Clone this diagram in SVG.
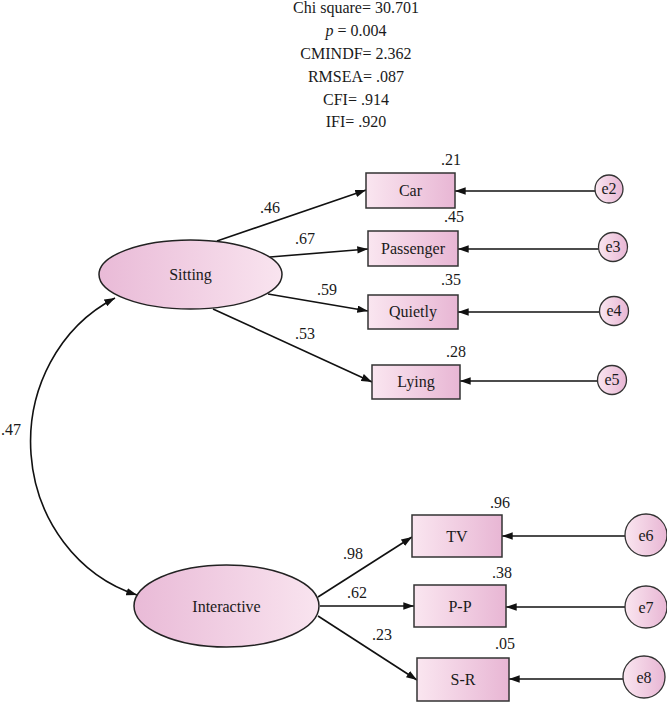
<svg xmlns="http://www.w3.org/2000/svg" width="667" height="716" viewBox="0 0 667 716" font-family="'Liberation Serif', 'Times New Roman', Tinos, 'DejaVu Serif', serif">
<style>
text{font-family:'Liberation Serif','Times New Roman',Tinos,'DejaVu Serif',serif;fill:#1a1a1a;}
.st{font-size:16px;text-anchor:middle;}
.lb{font-size:16px;text-anchor:middle;}
.cf{font-size:16px;text-anchor:middle;}
.box{fill:url(#gR);stroke:#333;stroke-width:1.5;}
.lat{fill:url(#gL);stroke:#222;stroke-width:1.5;}
.err{fill:url(#gR);stroke:#333;stroke-width:1.3;}
.ed{fill:none;stroke:#111;stroke-width:1.6;marker-end:url(#ah);}
</style>
<defs>
<linearGradient id="gR" x1="0" y1="0" x2="1" y2="0">
<stop offset="0" stop-color="#fae6f0"/><stop offset="1" stop-color="#e8b6d4"/>
</linearGradient>
<linearGradient id="gL" x1="0" y1="0" x2="1" y2="0">
<stop offset="0" stop-color="#e9bad7"/><stop offset="1" stop-color="#f9e4ef"/>
</linearGradient>
<marker id="ah" viewBox="0 0 10 7" refX="10" refY="3.5" markerWidth="11" markerHeight="7.5" markerUnits="userSpaceOnUse" orient="auto-start-reverse">
<path d="M0,0 L10,3.5 L0,7 z" fill="#111"/>
</marker>
</defs>
<g id="fit">
<text class="st" x="356" y="13">Chi square= 30.701</text>
<text class="st" x="356" y="36"><tspan font-style="italic">p</tspan> = 0.004</text>
<text class="st" x="356" y="59">CMINDF= 2.362</text>
<text class="st" x="356" y="82">RMSEA= .087</text>
<text class="st" x="356" y="104.5">CFI= .914</text>
<text class="st" x="356" y="127">IFI= .920</text>
</g>
<g id="connectors">
<path class="ed" d="M217,241 L366,190"/>
<path class="ed" d="M270,257 L368,249"/>
<path class="ed" d="M268,294 L368,311"/>
<path class="ed" d="M213,309 L372,382"/>
<path class="ed" d="M318,597 L412,537"/>
<path class="ed" d="M320,606 L414,606"/>
<path class="ed" d="M318,616 L417,680"/>
<path class="ed" d="M596,191 L455,191"/>
<path class="ed" d="M599,249 L458,249"/>
<path class="ed" d="M600,312 L458,312"/>
<path class="ed" d="M598,381 L460,381"/>
<path class="ed" d="M625,536 L502,536"/>
<path class="ed" d="M625,607 L506,607"/>
<path class="ed" d="M623,679 L509,679"/>
<path d="M115,298 A150,160 0 0,0 137,595" fill="none" stroke="#111" stroke-width="1.6" marker-start="url(#ah)" marker-end="url(#ah)"/>
<text class="cf" x="270" y="213">.46</text>
<text class="cf" x="305" y="244">.67</text>
<text class="cf" x="327" y="295">.59</text>
<text class="cf" x="305" y="339">.53</text>
<text class="cf" x="353" y="559">.98</text>
<text class="cf" x="357" y="598">.62</text>
<text class="cf" x="382" y="640">.23</text>
<text class="cf" x="11" y="435">.47</text>
</g>
<g id="Sitting"><ellipse class="lat" cx="190.5" cy="274.5" rx="91.5" ry="34.5"/><text class="lb" x="190.5" y="280">Sitting</text></g>
<g id="Interactive"><ellipse class="lat" cx="226.5" cy="606" rx="92.5" ry="41"/><text class="lb" x="226.5" y="611.5">Interactive</text></g>
<g id="Car"><rect class="box" x="366" y="173" width="89" height="35"/><text class="lb" x="410.5" y="196">Car</text><text class="cf" x="451" y="165">.21</text></g>
<g id="Passenger"><rect class="box" x="368" y="231" width="90" height="35"/><text class="lb" x="413" y="254">Passenger</text><text class="cf" x="454" y="222">.45</text></g>
<g id="Quietly"><rect class="box" x="368" y="295" width="90" height="34"/><text class="lb" x="413" y="317">Quietly</text><text class="cf" x="451" y="285">.35</text></g>
<g id="Lying"><rect class="box" x="372" y="365" width="88" height="34"/><text class="lb" x="416" y="387">Lying</text><text class="cf" x="456" y="357">.28</text></g>
<g id="TV"><rect class="box" x="412" y="515" width="90" height="42"/><text class="lb" x="457" y="541.5">TV</text><text class="cf" x="500" y="508">.96</text></g>
<g id="P-P"><rect class="box" x="414" y="585" width="92" height="42"/><text class="lb" x="460" y="611.5">P-P</text><text class="cf" x="502" y="578">.38</text></g>
<g id="S-R"><rect class="box" x="417" y="658" width="92" height="43"/><text class="lb" x="463" y="685">S-R</text><text class="cf" x="505" y="649">.05</text></g>
<g id="e2"><circle class="err" cx="609" cy="189" r="14"/><text class="lb" x="609" y="194">e2</text></g>
<g id="e3"><circle class="err" cx="613" cy="247" r="14.5"/><text class="lb" x="613" y="252">e3</text></g>
<g id="e4"><circle class="err" cx="614" cy="311" r="14.5"/><text class="lb" x="614" y="316">e4</text></g>
<g id="e5"><circle class="err" cx="612" cy="380" r="14.5"/><text class="lb" x="612" y="385">e5</text></g>
<g id="e6"><circle class="err" cx="646" cy="535" r="21"/><text class="lb" x="646" y="540.5">e6</text></g>
<g id="e7"><circle class="err" cx="646" cy="607" r="21"/><text class="lb" x="646" y="612.5">e7</text></g>
<g id="e8"><circle class="err" cx="644" cy="677" r="21"/><text class="lb" x="644" y="682.5">e8</text></g>
</svg>
